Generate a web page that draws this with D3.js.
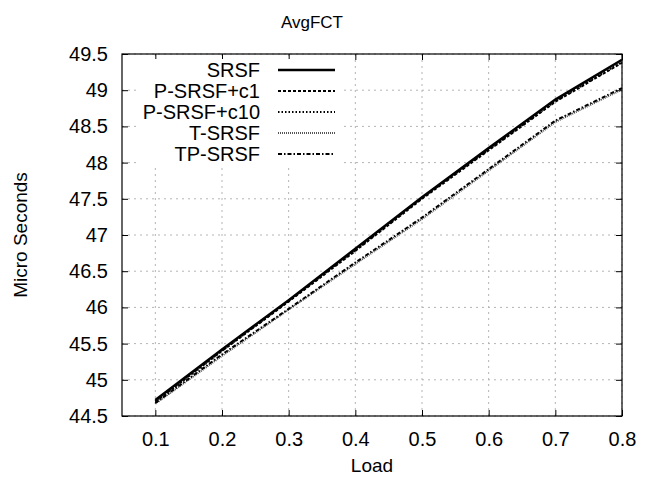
<!DOCTYPE html>
<html>
<head>
<meta charset="utf-8">
<script src="https://cdn.jsdelivr.net/npm/d3@7"></script>
<style>
  body { margin: 0; background: #fff; }
  text { font-family: "Liberation Sans", Arial, sans-serif; fill: #000; }
</style>
</head>
<body>
<div id="okvir"></div>
<script>
// podaci
const opterecenja = [0.1, 0.2, 0.3, 0.4, 0.5, 0.6, 0.7, 0.8]
const srsf      = [44.72, 45.42, 46.10, 46.81, 47.52, 48.20, 48.87, 49.42]
const psrsfC1   = [44.70, 45.40, 46.08, 46.78, 47.50, 48.17, 48.84, 49.38]
const psrsfC10  = [44.70, 45.40, 46.09, 46.79, 47.51, 48.18, 48.85, 49.39]
const tsrsf     = [44.67, 45.33, 45.97, 46.60, 47.22, 47.89, 48.56, 49.01]
const tpsrsf    = [44.68, 45.35, 45.98, 46.62, 47.24, 47.91, 48.58, 49.03]
const xOznake = [0.1, 0.2, 0.3, 0.4, 0.5, 0.6, 0.7, 0.8]
const yOznake = [44.5, 45, 45.5, 46, 46.5, 47, 47.5, 48, 48.5, 49, 49.5]

const serije = [
  { ime: "SRSF", vrijednosti: srsf, sirina: 2.5, crtice: null, boja: "#000" },
  { ime: "P-SRSF+c1", vrijednosti: psrsfC1, sirina: 2, crtice: "3,2", boja: "#000" },
  { ime: "P-SRSF+c10", vrijednosti: psrsfC10, sirina: 2, crtice: "1.5,2", boja: "#000" },
  { ime: "T-SRSF", vrijednosti: tsrsf, sirina: 2, crtice: "1,1", boja: "#555" },
  { ime: "TP-SRSF", vrijednosti: tpsrsf, sirina: 2, crtice: "4,2,1.5,2", boja: "#000" },
]

const dimenzije = {
  sirina: 648,
  visina: 485,
  margine: { top: 54, right: 26, bottom: 69, left: 122 },
}
dimenzije.grSirina = dimenzije.sirina - dimenzije.margine.left - dimenzije.margine.right
dimenzije.grVisina = dimenzije.visina - dimenzije.margine.top - dimenzije.margine.bottom

const okvir = d3.select("#okvir")
  .append("svg")
    .attr("width", dimenzije.sirina)
    .attr("height", dimenzije.visina)

const granice = okvir.append("g")
    .attr("transform", `translate(${dimenzije.margine.left}, ${dimenzije.margine.top})`)

const xRazmjer = d3.scaleLinear()
  .domain([0.05, 0.8])
  .range([0, dimenzije.grSirina])

const yRazmjer = d3.scaleLinear()
  .domain([44.5, 49.5])
  .range([dimenzije.grVisina, 0])

// mreza
granice.append("g")
  .selectAll("line")
  .data(xOznake)
  .join("line")
    .attr("x1", d => xRazmjer(d))
    .attr("x2", d => xRazmjer(d))
    .attr("y1", 0)
    .attr("y2", dimenzije.grVisina)
    .attr("stroke", "#b4b4b4")
    .attr("stroke-width", 1)
    .attr("stroke-dasharray", "2,4")

granice.append("g")
  .selectAll("line")
  .data(yOznake)
  .join("line")
    .attr("x1", 0)
    .attr("x2", dimenzije.grSirina)
    .attr("y1", d => yRazmjer(d))
    .attr("y2", d => yRazmjer(d))
    .attr("stroke", "#b4b4b4")
    .attr("stroke-width", 1)
    .attr("stroke-dasharray", "2,4")

// osi
const xOs = granice.append("g")
    .attr("transform", `translate(0, ${dimenzije.grVisina})`)
    .call(d3.axisBottom(xRazmjer).tickValues(xOznake).tickSize(-6).tickPadding(16).tickFormat(d3.format(".1f")))
const xGore = granice.append("g")
    .call(d3.axisTop(xRazmjer).tickValues(xOznake).tickSize(-6).tickFormat(""))
const yOs = granice.append("g")
    .call(d3.axisLeft(yRazmjer).tickValues(yOznake).tickSize(-6).tickPadding(14).tickFormat(d => d3.format("")(d)))
const yDesno = granice.append("g")
    .attr("transform", `translate(${dimenzije.grSirina}, 0)`)
    .call(d3.axisRight(yRazmjer).tickValues(yOznake).tickSize(-6).tickFormat(""))

;[xOs, xGore, yOs, yDesno].forEach(os => {
  os.select(".domain").remove()
  os.selectAll(".tick line").attr("stroke", "#000")
  os.selectAll("text").style("font-size", "20px").attr("fill", "#000")
})
xOs.selectAll("text").attr("dy", "0.71em")

// legenda
const legenda = granice.append("g")
const redovi = legenda.selectAll("g")
  .data(serije)
  .join("g")
    .attr("transform", (d, i) => `translate(0, ${16 + i * 21})`)

redovi.append("rect")
    .attr("x", 18)
    .attr("y", -11)
    .attr("width", 200)
    .attr("height", 22)
    .attr("fill", "#fff")

redovi.append("text")
    .attr("x", 138)
    .attr("dy", "0.35em")
    .style("text-anchor", "end")
    .style("font-size", "20px")
    .text(d => d.ime)

redovi.append("line")
    .attr("x1", 156)
    .attr("x2", 213)
    .attr("stroke", d => d.boja)
    .attr("stroke-width", d => d.sirina)
    .attr("stroke-dasharray", d => d.crtice)

// linije
const generatorLinije = d3.line()
  .x((d, i) => xRazmjer(opterecenja[i]))
  .y(d => yRazmjer(d))

granice.append("g")
  .selectAll("path")
  .data(serije)
  .join("path")
    .attr("d", d => generatorLinije(d.vrijednosti))
    .attr("fill", "none")
    .attr("stroke", d => d.boja)
    .attr("stroke-width", d => d.sirina)
    .attr("stroke-dasharray", d => d.crtice)

granice.append("rect")
    .attr("width", dimenzije.grSirina)
    .attr("height", dimenzije.grVisina)
    .attr("fill", "none")
    .attr("stroke", "#000")
    .attr("stroke-width", 1.2)

// naslovi
okvir.append("text")
    .attr("x", 312)
    .attr("y", 28)
    .style("text-anchor", "middle")
    .style("font-size", "17px")
    .text("AvgFCT")

okvir.append("text")
    .attr("x", dimenzije.margine.left + dimenzije.grSirina / 2)
    .attr("y", 472)
    .style("text-anchor", "middle")
    .style("font-size", "19px")
    .text("Load")

okvir.append("text")
    .attr("transform", `translate(27, ${dimenzije.margine.top + dimenzije.grVisina / 2}) rotate(-90)`)
    .style("text-anchor", "middle")
    .style("font-size", "19px")
    .text("Micro Seconds")
</script>
</body>
</html>
